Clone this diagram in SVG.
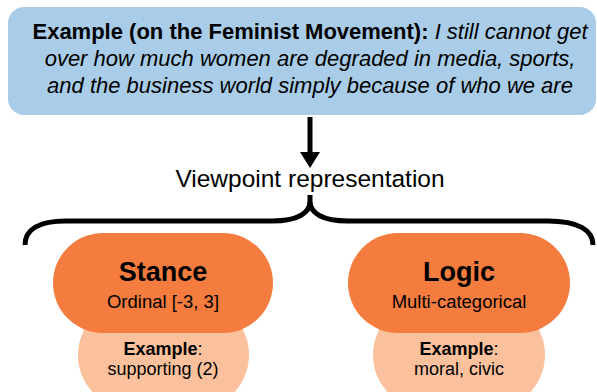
<svg xmlns="http://www.w3.org/2000/svg" width="597" height="392" viewBox="0 0 597 392">
<defs>
<style>
text{font-family:"Liberation Sans",Arial,Helvetica,sans-serif;fill:#000;text-anchor:middle}
.b{font-weight:bold}
.i{font-style:italic}
.dark{fill:#f47c3e}
.light{fill:#fbc09c}
.conn{fill:none;stroke:#000;stroke-width:5}
</style>
</defs>
<rect width="597" height="392" fill="#fff"/>
<g id="example-box">
<rect x="8" y="7" width="588" height="108" rx="16" fill="#a9cde8"/>
<text x="310" y="39" font-size="22"><tspan class="b">Example (on the Feminist Movement):</tspan><tspan class="i"> I still cannot get</tspan></text>
<text x="310" y="66" font-size="22" class="i">over how much women are degraded in media, sports,</text>
<text x="310" y="93" font-size="22" class="i">and the business world simply because of who we are</text>
</g>
<g id="connectors">
<line class="conn" x1="310" y1="117" x2="310" y2="154"/>
<polygon points="300,152 320,152 310,168" fill="#000"/>
<path class="conn" d="M25 245 C25 230 38 221 66 221 L272 221 C298 221 310 213 310 201 L310 195 M310 201 C310 213 322 221 348 221 L548 221 C578 221 593 230 593 245"/>
</g>
<g id="viewpoint-label">
<text x="310" y="187" font-size="24.5">Viewpoint representation</text>
</g>
<g id="stance">
<rect class="light" x="78" y="300" width="171" height="110" rx="55"/>
<rect class="dark" x="53" y="233" width="220" height="100" rx="50"/>
<text x="163" y="281" font-size="27" class="b">Stance</text>
<text x="163" y="308" font-size="18.5">Ordinal [-3, 3]</text>
<text x="163" y="355" font-size="18"><tspan class="b">Example</tspan>:</text>
<text x="163" y="375" font-size="18">supporting (2)</text>
</g>
<g id="logic">
<rect class="light" x="373" y="300" width="172" height="110" rx="55"/>
<rect class="dark" x="348" y="233" width="222" height="100" rx="50"/>
<text x="459" y="281" font-size="27" class="b">Logic</text>
<text x="459" y="308" font-size="18.5">Multi-categorical</text>
<text x="459" y="355" font-size="18"><tspan class="b">Example</tspan>:</text>
<text x="459" y="375" font-size="18">moral, civic</text>
</g>
</svg>
